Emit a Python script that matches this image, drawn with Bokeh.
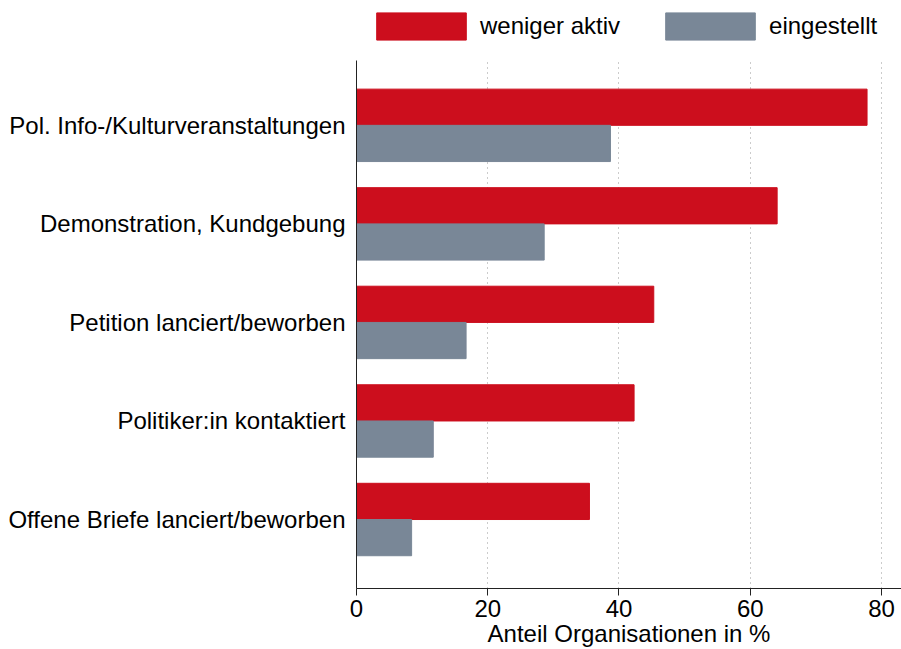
from bokeh.plotting import figure
from bokeh.models import ColumnDataSource, Range1d, FixedTicker, Legend, LegendItem
from bokeh.layouts import column
from bokeh.transform import dodge
from bokeh.embed import file_html
from bokeh.resources import INLINE

categories = ["Pol. Info-/Kulturveranstaltungen", "Demonstration, Kundgebung",
              "Petition lanciert/beworben", "Politiker:in kontaktiert",
              "Offene Briefe lanciert/beworben"]
weniger_aktiv = [77.8, 64.1, 45.3, 42.3, 35.5]
eingestellt = [38.7, 28.6, 16.7, 11.7, 8.4]
x_ticks = [0, 20, 40, 60, 80]
series_labels = ["weniger aktiv", "eingestellt"]

n = len(categories)
ypos = [n - 1 - i for i in range(n)]
src = ColumnDataSource(dict(y=ypos, red=weniger_aktiv, grey=eingestellt, cat=categories))

FONT = "Liberation Sans"
RED = "#CC0E1D"
GREY = "#798797"
W = 901
LEG_H = 60

# ---- main chart ----
p = figure(width=W, height=649 - LEG_H, output_backend="svg", toolbar_location=None,
           x_range=Range1d(0, 83.05), y_range=Range1d(-0.70, 4.658),
           min_border_left=356, min_border_right=0, min_border_top=0, min_border_bottom=40)

bh = 0.3675
r1 = p.hbar(y=dodge("y", bh / 2, range=p.y_range), right="red", left=0, height=bh, source=src,
            fill_color=RED, line_color=RED)
r2 = p.hbar(y=dodge("y", -bh / 2, range=p.y_range), right="grey", left=0, height=bh, source=src,
            fill_color=GREY, line_color=GREY)

p.outline_line_color = None
p.ygrid.grid_line_color = None
p.xgrid.grid_line_color = "#999999"
p.xgrid.grid_line_dash = "1 4"
p.xgrid.grid_line_width = 1
p.xgrid.ticker = FixedTicker(ticks=x_ticks[1:])

p.xaxis.ticker = FixedTicker(ticks=x_ticks)
p.xaxis.axis_label = "Anteil Organisationen in %"
p.xaxis.axis_label_text_font = FONT
p.xaxis.axis_label_text_font_size = "24px"
p.xaxis.axis_label_text_font_style = "normal"
p.xaxis.axis_label_standoff = 0
p.xaxis.major_label_text_font = FONT
p.xaxis.major_label_text_font_size = "24px"
p.xaxis.major_label_standoff = 4
p.xaxis.major_tick_out = 7
p.xaxis.major_tick_in = 0
p.xaxis.minor_tick_line_color = None
p.xaxis.axis_line_color = "#222222"
p.xaxis.major_tick_line_color = "#222222"
p.xaxis.major_label_text_color = "black"
p.xaxis.axis_label_text_color = "black"

p.yaxis.ticker = FixedTicker(ticks=ypos)
p.yaxis.major_label_overrides = {y: c for y, c in zip(ypos, categories)}
p.yaxis.major_label_text_font = FONT
p.yaxis.major_label_text_font_size = "24px"
p.yaxis.major_label_text_color = "black"
p.yaxis.major_label_standoff = 11
p.yaxis.major_tick_out = 0
p.yaxis.major_tick_in = 0
p.yaxis.minor_tick_line_color = None
p.yaxis.axis_line_color = "#222222"

# ---- legend strip above the chart (frame aligned with the chart frame) ----
lp = figure(width=W, height=LEG_H, output_backend="svg", toolbar_location=None,
            x_range=Range1d(0, 83.05), y_range=Range1d(100, 101),
            x_axis_location=None, y_axis_location=None,
            min_border_left=0, min_border_right=0, min_border_top=0, min_border_bottom=0)
lp.grid.visible = False
lp.outline_line_color = None
# proxies for the legend: same data, drawn outside the visible y-range
lr1 = lp.hbar(y="y", right="red", left=0, height=bh, source=src, fill_color=RED, line_color=RED)
lr2 = lp.hbar(y="y", right="grey", left=0, height=bh, source=src, fill_color=GREY, line_color=GREY)

legend = Legend(items=[LegendItem(label=series_labels[0], renderers=[lr1]),
                       LegendItem(label=series_labels[1], renderers=[lr2])],
                orientation="horizontal", location=(9, 17),
                glyph_width=112, glyph_height=34, label_standoff=3, spacing=34,
                padding=0, margin=0, border_line_color=None, background_fill_alpha=0,
                label_text_font=FONT, label_text_font_size="24px", label_text_color="black",
                label_height=34)
lp.add_layout(legend, "center")

layout = column(lp, p, spacing=0)
open("out.html", "w").write(file_html(layout, INLINE))
